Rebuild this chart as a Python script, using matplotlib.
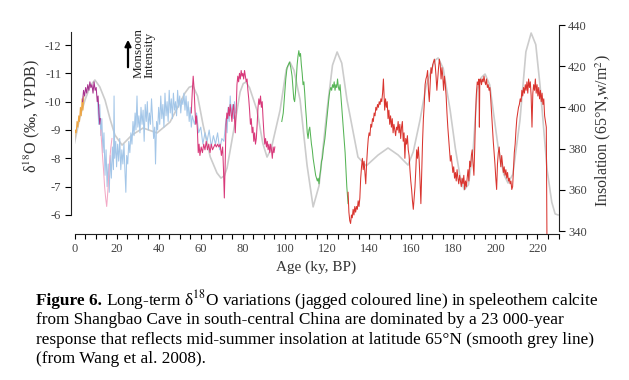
import numpy as np
import matplotlib
matplotlib.use("Agg")
import matplotlib.pyplot as plt

plt.rcParams['font.family'] = ['Liberation Serif', 'DejaVu Serif']
plt.rcParams['mathtext.fontset'] = 'stix'

# ---- insolation, 65N mid-summer (W/m2)
ins_age = [0, 2.5, 5, 7.5, 9.7, 12.0, 14.5, 17.0, 19.2, 22.6, 27.3, 32.6, 39.2, 45.4,
           50.0, 52.5, 54.5, 56.3, 58.5, 61.1, 64.5, 67.7, 69.6, 71.2, 72.5, 75.5,
           78.7, 80.2, 81.5, 83.2, 86.7, 89.5, 91.5, 93.5, 97.7, 100.6, 102.4, 104.3,
           107.2, 110.5, 113.4, 116.2, 120.0, 122.6, 124.8, 127.0, 129.5, 134.7, 138.6,
           144.3, 149.0, 153.8, 158.5, 161.0, 164.2, 167.0, 169.9, 171.5, 172.8, 175.2,
           178.5, 181.0, 183.3, 185.2, 187.2, 189.5, 191.3, 193.3, 195.1, 197.3, 201.3,
           204.0, 206.0, 208.3, 211.7, 214.5, 217.0, 219.2, 221.3, 224.6, 226.8, 228.4,
           229.8]
ins_val = [382.7, 395.0, 403.6, 410.5, 413.3, 410.0, 403.6, 394.0, 386.6, 381.7, 386.6,
           390.0, 387.6, 392.9, 402.0, 407.0, 409.8, 410.4, 405.5, 391.5, 376.0, 368.2,
           365.7, 366.8, 370.6, 388.0, 407.5, 411.6, 412.3, 409.5, 398.7, 382.5, 375.9,
           380.0, 398.7, 418.2, 422.0, 418.0, 403.6, 372.0, 351.7, 362.0, 398.7, 420.5,
           426.9, 421.5, 403.6, 375.9, 371.6, 376.9, 380.3, 376.9, 372.0, 378.5, 393.9,
           410.0, 419.1, 423.0, 424.0, 419.0, 398.7, 380.0, 366.0, 360.0, 362.5, 380.0,
           408.4, 414.5, 416.2, 411.0, 380.8, 367.5, 363.3, 367.5, 393.9, 427.0, 436.1,
           430.5, 409.9, 369.6, 354.0, 348.3, 347.8]

# ---- speleothem d18O segments (permil VPDB)
orange_age = [0.0, 0.4, 0.8, 1.2, 1.6, 2.0, 2.4, 2.8, 3.2, 3.6, 4.0, 4.4]
orange_d18o = [-8.7, -9.0, -8.9, -9.3, -9.1, -9.5, -9.3, -9.8, -9.5, -10.1, -9.7, -10.2]

purple_age = [3.8, 4.3, 4.8, 5.3, 5.8, 6.3, 6.8, 7.3, 7.8, 8.3, 8.8, 9.3, 9.8,
              10.3, 10.8, 11.2, 11.6, 12.0, 12.3]
purple_d18o = [-10.0, -10.4, -10.2, -10.5, -10.3, -10.6, -10.4, -10.7, -10.5, -10.6,
               -10.3, -10.7, -10.4, -10.5, -10.0, -10.2, -9.6, -9.2, -9.4]

blue_age = [11.0, 11.5, 12.0, 12.5, 13.0, 13.5, 14.0, 14.5, 15.0, 15.5, 16.0, 16.5,
            17.0, 17.5, 18.0, 18.5, 18.8, 19.1, 19.6, 20.0, 20.5, 21.0, 21.5, 22.0,
            22.5, 23.0, 23.5, 24.0, 24.4, 24.8, 25.3, 25.8, 26.3, 26.8, 27.3, 27.8,
            28.3, 28.8, 29.2, 29.7, 30.1, 30.6, 31.1, 31.6, 32.1, 32.6, 33.1, 33.6,
            34.1, 34.6, 35.1, 35.6, 36.1, 36.6, 37.1, 37.6, 38.1, 38.5, 39.0, 39.5,
            40.0, 40.5, 41.0, 41.5, 42.0, 42.5, 43.0, 43.5, 44.0, 44.5, 45.0, 45.5,
            46.0, 46.5, 47.0, 47.5, 48.0, 48.5, 49.0, 49.5, 50.0, 50.5, 51.0, 51.5,
            52.0, 52.5, 53.0, 53.5, 54.0, 54.5, 55.0, 55.5, 56.0, 57.0, 58.0, 59.0,
            60.0, 61.0, 62.0, 63.0, 64.0, 65.0, 66.0, 67.0, 68.0, 69.0, 70.0, 71.0,
            72.0, 72.5, 73.0, 73.5, 74.0, 74.5, 75.0, 75.5, 76.0, 76.5]
blue_d18o = [-10.0, -9.2, -9.9, -8.8, -9.4, -8.2, -8.9, -7.4, -8.3, -7.0, -7.8, -6.8,
             -8.1, -7.3, -8.4, -7.6, -10.2, -8.0, -8.6, -7.7, -8.5, -7.9, -8.7, -7.6,
             -8.3, -7.8, -8.5, -7.5, -6.8, -8.1, -7.8, -8.6, -8.2, -8.9, -8.5, -9.3,
             -8.8, -9.6, -9.0, -10.2, -9.1, -9.5, -8.9, -9.8, -9.2, -9.7, -8.6, -9.9,
             -9.3, -10.0, -9.0, -9.6, -9.2, -10.1, -9.4, -8.7, -9.1, -7.8, -9.3, -9.0,
             -9.8, -9.2, -10.2, -9.4, -9.9, -9.1, -10.3, -9.5, -10.0, -9.3, -10.4, -9.6,
             -10.1, -9.4, -10.3, -9.7, -10.0, -9.5, -10.4, -9.8, -10.2, -9.6, -10.1, -9.9,
             -10.3, -9.7, -10.2, -9.5, -10.0, -9.3, -9.8, -9.1, -9.5, -9.2, -9.6, -8.9,
             -9.1, -8.5, -8.9, -8.6, -9.0, -8.4, -8.8, -8.5, -8.9, -8.3, -8.7, -8.6,
             -9.4, -8.9, -9.8, -9.3, -10.2, -9.5, -9.9, -9.4, -10.0, -9.6]

pink_age = [12.5, 13.2, 13.8, 14.3, 14.8, 15.3, 15.8, 16.3, 16.8, 17.3, 17.8]
pink_d18o = [-9.0, -8.2, -7.6, -7.0, -6.6, -6.3, -6.8, -7.4, -8.0, -8.4, -8.7]

magenta_age = [55.5, 56.0, 56.4, 56.8, 57.2, 57.6, 58.0, 58.4, 58.8, 59.2, 59.6, 60.2,
               60.8, 61.4, 62.0, 62.6, 63.2, 63.8, 64.4, 65.0, 65.6, 66.2, 66.8, 67.4,
               68.0, 68.6, 69.2, 69.8, 70.4, 70.8, 71.2, 71.6, 72.0, 72.4, 72.8, 73.2,
               73.6, 74.0, 74.4, 74.8, 75.2, 75.6, 76.0, 76.4, 76.8, 77.2, 77.6, 78.0,
               78.4, 78.8, 79.2, 79.6, 80.0, 80.4, 80.8, 81.2, 81.6, 82.0, 82.4, 82.8,
               83.2, 83.6, 84.0, 84.4, 84.8, 85.2, 85.6, 86.0, 86.4, 86.8, 87.2, 87.6,
               88.0, 88.4, 88.8, 89.2, 89.6, 90.0, 90.4, 90.8, 91.2, 91.6, 92.0, 92.4,
               92.8, 93.2, 93.6, 94.0, 94.4, 94.8, 95.2]
magenta_d18o = [-9.6, -10.4, -10.9, -10.5, -9.8, -9.2, -9.5, -9.0, -8.2, -8.5, -8.1, -8.4,
                -8.2, -8.5, -8.3, -8.6, -8.3, -8.5, -8.2, -8.5, -8.3, -8.4, -8.5, -8.4,
                -8.5, -8.4, -8.5, -8.1, -8.4, -7.6, -6.6, -7.8, -9.2, -9.6, -9.4, -9.8,
                -9.5, -9.9, -9.6, -9.3, -9.7, -9.9, -9.5, -8.9, -9.6, -10.6, -10.9, -10.7,
                -11.0, -10.8, -11.1, -10.9, -11.0, -10.8, -11.1, -10.9, -10.7, -10.8, -10.4, -10.1,
                -9.7, -9.2, -9.4, -8.9, -9.1, -8.6, -8.9, -8.5, -8.7, -9.2, -9.8, -10.1,
                -9.9, -10.2, -9.8, -10.0, -9.4, -8.9, -8.5, -8.7, -8.4, -8.6, -8.3, -8.5,
                -8.2, -8.5, -8.3, -8.0, -8.4, -8.2, -8.4]

green_age = [98.5, 99.2, 99.8, 100.4, 101.0, 101.6, 102.2, 102.8, 103.4, 103.8, 104.2,
             104.6, 105.0, 105.4, 105.8, 106.2, 106.6, 107.0, 107.4, 107.8, 108.2, 108.6,
             109.0, 109.4, 109.8, 110.2, 110.6, 111.0, 111.4, 111.8, 112.2, 112.6, 113.0,
             113.4, 113.8, 114.2, 114.6, 115.0, 115.4, 115.8, 116.2, 116.6, 117.0, 117.4,
             117.8, 118.2, 118.6, 119.0, 119.4, 119.8, 120.2, 120.6, 121.0, 121.4, 121.8,
             122.2, 122.6, 123.0, 123.4, 123.8, 124.2, 124.6, 125.0, 125.4, 125.8, 126.2,
             126.6, 127.0, 127.4, 127.8, 128.2, 128.6, 129.0, 129.4, 129.8, 130.0]
green_d18o = [-9.3, -9.6, -10.2, -10.8, -11.2, -11.3, -11.4, -11.2, -10.9, -10.5, -10.1,
              -10.0, -10.3, -10.8, -11.3, -11.6, -11.8, -11.6, -11.7, -11.3, -11.0, -10.6,
              -10.7, -10.3, -9.8, -9.4, -8.9, -8.7, -9.0, -9.1, -8.8, -8.5, -8.3,
              -8.0, -7.8, -7.6, -7.4, -7.3, -7.2, -7.3, -7.1, -7.4, -7.6, -7.9,
              -8.0, -8.3, -8.5, -8.7, -9.0, -9.3, -9.6, -9.9, -10.2, -10.4, -10.5,
              -10.4, -10.6, -10.5, -10.7, -10.4, -10.6, -10.5, -10.8, -10.5, -10.4, -10.6,
              -10.2, -9.8, -9.4, -9.0, -8.6, -8.2, -7.6, -7.0, -6.6, -6.4]

red_age = [130.0, 130.4, 130.8, 131.2, 131.6, 132.0, 132.4, 132.8, 133.2, 133.6, 134.0,
           134.4, 134.8, 135.2, 135.6, 136.0, 136.4, 136.8, 137.2, 137.6, 138.0, 138.4,
           138.8, 139.2, 139.6, 140.0, 140.4, 140.8, 141.2, 141.6, 142.0, 142.4, 142.8,
           143.2, 143.6, 144.0, 144.4, 144.8, 145.2, 145.6, 146.0, 146.4, 146.8, 147.0,
           147.4, 147.8, 148.2, 148.6, 149.0, 149.4, 149.8, 150.2, 150.6, 151.0, 151.4,
           151.8, 152.2, 152.6, 153.0, 153.4, 153.8, 154.2, 154.6, 155.0, 155.4, 155.8,
           156.2, 156.6, 157.0, 157.4, 157.8, 158.2, 158.6, 159.0, 159.4, 159.8, 160.2,
           160.6, 161.0, 161.4, 161.8, 162.2, 162.6, 163.0, 163.4, 163.8, 164.2, 164.6,
           165.0, 165.4, 165.8, 166.2, 166.6, 167.0, 167.4, 167.8, 168.2, 168.6, 169.0,
           169.4, 169.8, 170.2, 170.6, 171.0, 171.4, 171.8, 172.2, 172.6, 173.0, 173.4,
           173.8, 174.2, 174.6, 175.0, 175.4, 175.8, 176.2, 176.6, 177.0, 177.4, 177.8,
           178.2, 178.6, 179.0, 179.4, 179.8, 180.2, 180.6, 181.0, 181.4, 181.8, 182.2,
           182.6, 183.0, 183.4, 183.8, 184.2, 184.6, 185.0, 185.4, 185.8, 186.2, 186.6,
           187.0, 187.4, 187.8, 188.2, 188.6, 189.0, 189.4, 189.8, 190.2, 190.6, 191.0,
           191.4, 191.8, 192.2, 192.4, 192.6, 193.0, 193.4, 193.8, 194.2, 194.6, 195.0,
           195.4, 195.8, 196.2, 196.6, 197.0, 197.4, 197.8, 198.2, 198.6, 199.0, 199.4,
           199.8, 200.2, 200.6, 201.0, 201.4, 201.8, 202.2, 202.6, 203.0, 203.4, 203.8,
           204.2, 204.6, 205.0, 205.4, 205.8, 206.2, 206.6, 207.0, 207.4, 207.8, 208.2,
           209.0, 209.4, 209.8, 210.2, 210.6, 211.0, 211.4, 211.8, 212.2, 212.6, 213.0,
           213.4, 213.8, 214.2, 214.6, 215.0, 215.4, 215.8, 216.2, 216.6, 217.0, 217.4,
           217.8, 218.2, 218.6, 219.0, 219.4, 219.8, 220.2, 220.6, 221.0, 221.4, 221.8,
           222.2, 222.6, 223.0, 223.4, 223.8, 224.2, 224.5]
red_d18o = [-6.8, -6.1, -5.8, -5.7, -6.0, -5.9, -6.2, -6.0, -6.3, -6.1, -6.3,
            -6.2, -6.5, -6.3, -6.6, -7.3, -7.7, -8.0, -7.6, -7.9, -7.5, -7.1,
            -7.8, -8.3, -8.7, -8.9, -8.8, -9.2, -9.1, -9.4, -9.3, -9.6, -9.5,
            -9.8, -9.7, -9.9, -9.8, -10.0, -9.9, -10.1, -10.0, -10.3, -10.8, -10.4,
            -9.7, -10.1, -9.8, -10.0, -9.4, -9.7, -9.2, -9.5, -9.1, -9.4, -8.9,
            -9.2, -9.0, -8.8, -9.1, -9.0, -9.3, -8.9, -9.2, -8.7, -9.1, -9.3,
            -8.6, -8.9, -8.0, -8.7, -8.5, -8.8, -8.3, -8.1, -7.6, -7.2, -6.9,
            -6.5, -6.2, -6.6, -7.0, -7.6, -8.3, -8.0, -8.4, -7.9, -7.2, -6.4,
            -7.5, -8.6, -9.4, -9.9, -10.6, -10.8, -10.9, -11.1, -10.4, -10.0, -10.6,
            -11.2, -11.0, -11.3, -11.4, -11.5, -11.3, -10.9, -10.4, -10.8, -11.2, -11.5,
            -11.3, -10.8, -11.2, -10.9, -10.4, -10.9, -10.6, -10.2, -9.6, -9.1, -8.7,
            -8.3, -7.9, -8.1, -7.8, -7.5, -7.7, -7.3, -7.5, -7.2, -7.6, -7.3,
            -7.1, -7.4, -7.2, -7.0, -7.3, -7.1, -7.4, -6.9, -7.2, -7.0, -7.3,
            -7.6, -7.2, -7.9, -7.7, -8.1, -8.3, -7.8, -7.4, -8.4, -9.6, -10.3,
            -10.7, -10.6, -10.8, -9.1, -10.7, -10.8, -10.6, -10.8, -10.7, -10.9, -10.7,
            -10.6, -10.8, -10.5, -10.6, -10.4, -10.5, -10.1, -9.6, -9.1, -8.6, -8.2,
            -7.8, -7.3, -6.9, -7.8, -8.2, -8.4, -8.0, -7.7, -8.1, -7.8, -7.5,
            -7.7, -7.4, -7.6, -7.3, -7.5, -7.2, -7.3, -7.1, -7.2, -6.9, -7.0,
            -8.2, -8.5, -9.0, -9.4, -9.6, -9.8, -9.9, -10.1, -10.0, -10.4, -10.2,
            -10.5, -10.3, -10.6, -10.4, -10.7, -10.3, -10.8, -10.5, -10.7, -10.2, -9.1,
            -10.3, -10.6, -10.4, -10.8, -10.3, -10.6, -10.2, -10.5, -10.1, -10.4, -10.0,
            -10.3, -9.9, -10.1, -9.5, -9.3, -9.1, -5.3]

x_ticks = list(range(0, 221, 20))
x_minor = list(range(0, 231, 5))
left_ticks = [-12, -11, -10, -9, -8, -7, -6]
right_ticks = [340, 360, 380, 400, 420, 440]

fig = plt.figure(figsize=(6.29, 3.80), dpi=100)
W, H = 629.0, 380.0
ax = fig.add_axes([74.5 / W, 1 - 234.3 / H, 484 / W, 209.3 / H])
ax2 = ax.twinx()
ax.set_zorder(2)
ax.patch.set_visible(False)

# grey insolation curve (right axis)
ax2.plot(ins_age, ins_val, color='#cccccc', lw=1.2)
ax2.set_ylim(338.4, 440)

# coloured speleothem record (left axis, reversed)
lw = 0.75
ax.plot(blue_age, blue_d18o, color='#a3c6e8', lw=lw)
ax.plot(pink_age, pink_d18o, color='#f3a9c6', lw=lw)
ax.plot(orange_age, orange_d18o, color='#eea542', lw=lw)
ax.plot(purple_age, purple_d18o, color='#a8348f', lw=lw)
ax.plot(magenta_age, magenta_d18o, color='#d8397a', lw=lw)
ax.plot(green_age, green_d18o, color='#56b456', lw=lw)
ax.plot(red_age, red_d18o, color='#d9352f', lw=lw)

ax.set_xlim(0, 230)
ax.set_ylim(-5.318, -12.706)

tick_col = '#444444'
for s in ['top', 'right']:
    ax.spines[s].set_visible(False)
for s in ['top', 'left', 'bottom']:
    ax2.spines[s].set_visible(False)

ax.spines['left'].set_position(('outward', 2.5))
ax.spines['left'].set_bounds(-6, -12.45)
ax.spines['left'].set_color('#222222')
ax.spines['bottom'].set_color('#222222')
ax2.spines['right'].set_bounds(340, 440)
ax2.spines['right'].set_color('#222222')

ax.set_yticks(left_ticks)
ax.set_yticklabels([str(t) for t in left_ticks])
ax.set_xticks(x_ticks)
ax.set_xticks(x_minor, minor=True)
ax2.set_yticks(right_ticks)

ax.tick_params(axis='y', direction='out', length=4, width=0.8, labelsize=9,
               labelcolor=tick_col, pad=3)
ax.tick_params(axis='x', which='both', direction='out', length=3.5, width=0.8,
               labelsize=9, labelcolor=tick_col, pad=3)
ax2.tick_params(axis='y', direction='out', length=4, width=0.8, labelsize=9,
                labelcolor=tick_col, pad=3)

ax.set_xlabel('Age (ky, BP)', fontsize=11, color='#333333', labelpad=4)
fig.text(32 / W, 1 - 116 / H, 'δ$^{18}$O (‰, VPDB)', rotation=90,
         ha='center', va='center', fontsize=11.5, color='#333333')
fig.text(603 / W, 1 - 131 / H, r'Insolation (65°N,w/m$^{2}$)', rotation=90,
         ha='center', va='center', fontsize=11.5, color='#333333')

# monsoon intensity arrow
ax.annotate('', xy=(128, H - 37), xytext=(128, H - 70), xycoords='figure pixels',
            textcoords='figure pixels',
            arrowprops=dict(arrowstyle='-|>', lw=1.6, color='black', mutation_scale=9))
fig.text(144 / W, 1 - 53 / H, 'Monsoon\nIntensity', rotation=90, ha='center',
         va='center', multialignment='left', fontsize=9.5, color='#222222',
         linespacing=0.95)

# caption
cap_x = 36 / W
cap_y = [1 - 305 / H, 1 - 324.5 / H, 1 - 344 / H, 1 - 363 / H]
cap_size = 12.4
t1 = fig.text(cap_x, cap_y[0], 'Figure 6.', fontsize=cap_size, weight='bold',
              va='baseline')
fig.canvas.draw()
bb = t1.get_window_extent()
fig.text(bb.x1 / W + 4 / W, cap_y[0],
         'Long-term δ$^{18}$O variations (jagged coloured line) in speleothem calcite',
         fontsize=cap_size, va='baseline')
fig.text(cap_x, cap_y[1],
         'from Shangbao Cave in south-central China are dominated by a 23 000-year',
         fontsize=cap_size, va='baseline')
fig.text(cap_x, cap_y[2],
         'response that reflects mid-summer insolation at latitude 65°N (smooth grey line)',
         fontsize=cap_size, va='baseline')
fig.text(cap_x, cap_y[3], '(from Wang et al. 2008).', fontsize=cap_size, va='baseline')

fig.savefig('out.png', dpi=100)
